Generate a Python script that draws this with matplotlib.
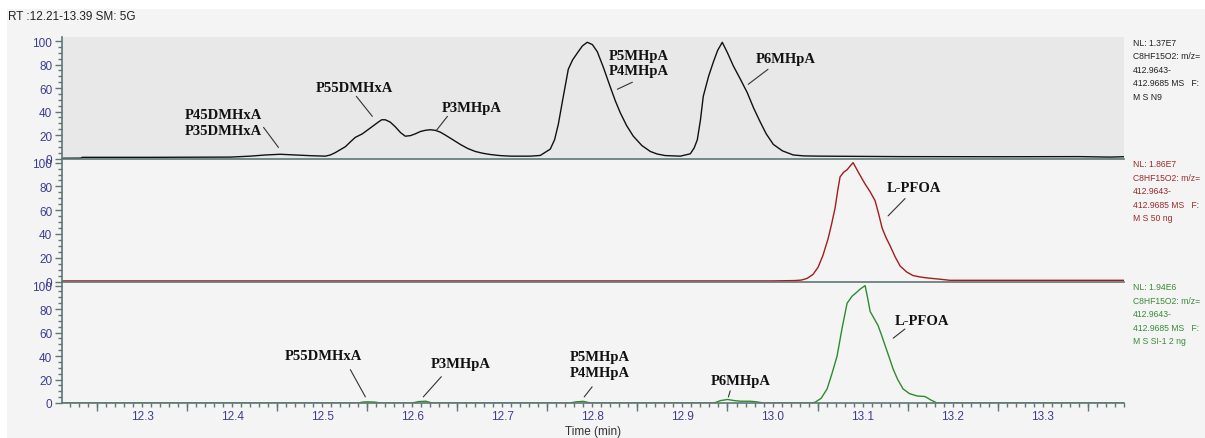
import numpy as np
import matplotlib
matplotlib.use('agg')
import matplotlib.pyplot as plt
from matplotlib.patches import Rectangle
from matplotlib.ticker import MultipleLocator, FixedLocator, NullFormatter

# retention time (min) and relative abundance (%)
t_ms = [12.211, 12.2315, 12.2337, 12.3092, 12.398, 12.420, 12.437, 12.4535, 12.470,
        12.4868, 12.5034, 12.509, 12.5145, 12.520, 12.5256, 12.531, 12.5367, 12.5445,
        12.5534, 12.5622, 12.566, 12.570, 12.5755, 12.5811, 12.587, 12.5922, 12.598,
        12.6033, 12.609, 12.6144, 12.620, 12.6255, 12.631, 12.6366, 12.645, 12.6533,
        12.6616, 12.6699, 12.678, 12.6866, 12.697, 12.7088, 12.731, 12.7421, 12.7532,
        12.758, 12.7621, 12.767, 12.7732, 12.778, 12.7843, 12.789, 12.7943, 12.800,
        12.8054, 12.812, 12.8198, 12.8255, 12.8309, 12.838, 12.8454, 12.855, 12.8643,
        12.872, 12.8809, 12.8976, 12.9087, 12.913, 12.9165, 12.920, 12.9231, 12.929,
        12.9342, 12.939, 12.9442, 12.950, 12.9564, 12.964, 12.972, 12.979, 12.9864,
        12.993, 13.0009, 13.011, 13.0231, 13.035, 13.0531, 13.1419, 13.2526, 13.3414,
        13.3747, 13.3903]
i_ms = [0.2, 0.3, 1.0, 1.0, 1.2, 2.0, 3.0, 3.6, 3.0,
        2.4, 2.0, 3.0, 5.0, 7.5, 10.0, 14.0, 18.0, 21.0,
        26.0, 31.0, 33.0, 33.0, 31.0, 27.0, 22.0, 19.0, 19.5,
        21.0, 23.0, 24.0, 24.5, 24.0, 22.5, 20.0, 16.0, 12.0,
        8.5, 6.0, 4.5, 3.4, 2.5, 2.0, 2.0, 2.6, 8.0,
        16.0, 29.0, 50.0, 76.0, 84.0, 91.0, 96.0, 99.0, 97.0,
        91.0, 78.0, 61.0, 49.0, 39.0, 28.0, 19.0, 11.0, 6.0,
        3.8, 2.5, 2.0, 4.0, 9.0, 16.0, 33.0, 53.0, 70.0,
        82.0, 92.0, 99.0, 90.0, 79.0, 68.0, 56.0, 43.0, 31.0,
        21.0, 12.0, 6.5, 3.0, 2.2, 2.0, 1.6, 1.5, 1.6,
        1.2, 1.5]

t_50ng = [12.211, 13.0, 13.025, 13.032, 13.0384, 13.045, 13.0506, 13.056, 13.0617,
          13.0655, 13.0695, 13.0725, 13.075, 13.079, 13.0828, 13.086, 13.0895, 13.096,
          13.1028, 13.108, 13.1139, 13.1178, 13.1217, 13.126, 13.1306, 13.136, 13.1417,
          13.149, 13.156, 13.164, 13.1716, 13.185, 13.197, 13.3903]
i_50ng = [0.5, 0.5, 0.8, 1.2, 2.6, 6.0, 12.0, 22.0, 36.0,
          48.0, 62.0, 77.0, 88.0, 92.0, 94.0, 97.0, 100.0, 91.0,
          82.0, 76.0, 68.0, 57.0, 45.0, 37.0, 30.0, 21.0, 13.0,
          8.0, 5.0, 3.8, 3.0, 2.0, 1.0, 1.0]

t_2ng = [12.211, 12.54, 12.545, 12.55, 12.558, 12.565, 12.60, 12.607, 12.615, 12.622,
         12.775, 12.782, 12.79, 12.798, 12.935, 12.942, 12.95, 12.958, 12.965, 12.975,
         12.982, 12.99, 13.04, 13.047, 13.054, 13.0606, 13.066, 13.0717, 13.0773,
         13.0828, 13.0884, 13.093, 13.0973, 13.1028, 13.1055, 13.1084, 13.1128, 13.1172,
         13.121, 13.125, 13.1295, 13.1339, 13.139, 13.145, 13.152, 13.1605, 13.1694,
         13.176, 13.1827, 13.3903]
i_2ng = [0.0, 0.0, 0.8, 1.0, 0.8, 0.0, 0.0, 1.2, 1.5, 0.0,
         0.0, 1.0, 1.4, 0.0, 0.0, 2.0, 3.0, 2.0, 1.5, 1.5,
         1.0, 0.0, 0.0, 0.5, 4.0, 12.0, 25.0, 40.0, 64.0,
         85.0, 91.0, 94.0, 97.0, 100.0, 90.0, 78.0, 72.0, 66.0,
         58.0, 49.0, 39.0, 29.0, 20.0, 12.0, 8.0, 6.0, 5.5,
         2.5, 0.0, 0.0]

info_ms = ["NL: 1.37E7", "C8HF15O2: m/z=", "412.9643-", "412.9685 MS   F:", "M S N9"]
info_50ng = ["NL: 1.86E7", "C8HF15O2: m/z=", "412.9643-", "412.9685 MS   F:", "M S 50 ng"]
info_2ng = ["NL: 1.94E6", "C8HF15O2: m/z=", "412.9643-", "412.9685 MS   F:", "M S SI-1 2 ng"]

# peak labels: text, text centre, leader start, leader end
lab_ms = [("P45DMHxA\nP35DMHxA", (12.3905, 30.8), (12.4348, 26.5), (12.4514, 9.4)),
          ("P55DMHxA", (12.5358, 60.7), (12.5378, 53.0), (12.5556, 35.9)),
          ("P3MHpA", (12.6655, 43.6), (12.6390, 35.9), (12.6267, 23.9)),
          ("P5MHpA\nP4MHpA", (12.852, 81.2), (12.8444, 65.0), (12.8277, 59.0)),
          ("P6MHpA", (13.0152, 85.5), (12.995, 76.0), (12.973, 63.2))]
lab_50ng = [("L-PFOA", (13.1574, 79.3), (13.1472, 69.8), (13.1283, 55.2))]
lab_2ng = [("P55DMHxA", (12.5013, 40.5), (12.5312, 28.4), (12.5479, 5.2)),
           ("P3MHpA", (12.6533, 33.6), (12.6322, 22.4), (12.6122, 5.2)),
           ("P5MHpA\nP4MHpA", (12.8087, 32.8), (12.7997, 13.8), (12.7909, 5.2)),
           ("P6MHpA", (12.9642, 19.0), (12.953, 10.3), (12.951, 5.2)),
           ("L-PFOA", (13.166, 70.7), (13.147, 63.0), (13.134, 55.2))]

W, H = 1205, 439
bg = '#f4f4f4'
axcol = '#5e7676'
tickcol = '#3d3d92'

fig = plt.figure(figsize=(W / 100, H / 100), dpi=100, facecolor='white')
fig.patches.append(Rectangle((7 / W, 0), 1, 1 - 10 / H, transform=fig.transFigure,
                             facecolor=bg, edgecolor='none', zorder=-10))

left, right = 62 / W, 1124 / W
bounds = [(38, 159.5), (159.5, 282.5), (282.5, 404)]
panels = [(t_ms, i_ms, '#111111', info_ms, '#222222', lab_ms),
          (t_50ng, i_50ng, '#a31c1c', info_50ng, '#9a2b2b', lab_50ng),
          (t_2ng, i_2ng, '#2f8a2f', info_2ng, '#3a8a3a', lab_2ng)]

serif = ['Liberation Serif', 'DejaVu Serif']
sans = ['Liberation Sans', 'DejaVu Sans']

for k, ((top, bot), (tt, ii, lc, info, icol, labs)) in enumerate(zip(bounds, panels)):
    ax = fig.add_axes([left, 1 - bot / H, right - left, (bot - top) / H])
    ax.set_facecolor('#e8e8e8' if k == 0 else 'none')
    ax.plot(tt, ii, color=lc, lw=1.0)
    ax.set_xlim(12.211, 13.3903)
    ax.set_ylim(0, 103.5)
    for s in ['top', 'right']:
        ax.spines[s].set_visible(False)
    for s in ['left', 'bottom']:
        ax.spines[s].set_color(axcol)
        ax.spines[s].set_linewidth(1.2)
    ax.yaxis.set_major_locator(MultipleLocator(20))
    ax.yaxis.set_minor_locator(MultipleLocator(5))
    ax.tick_params(axis='y', which='major', length=5, width=1, color=axcol,
                   labelsize=8.5, labelcolor=tickcol, pad=2)
    ax.tick_params(axis='y', which='minor', length=3, width=1, color=axcol)
    for lbl in ax.get_yticklabels():
        lbl.set_family(sans)

    if k < 2:
        ax.tick_params(axis='x', which='both', bottom=False, labelbottom=False)
    else:
        ax.xaxis.set_major_locator(MultipleLocator(0.1))
        ax.xaxis.set_minor_locator(MultipleLocator(0.01))
        ax.tick_params(axis='x', which='both', length=3, width=1, color=axcol,
                       labelsize=8.5, labelcolor=tickcol, pad=2)
        for lbl in ax.get_xticklabels():
            lbl.set_family(sans)
        sec = ax.secondary_xaxis('bottom')
        sec.xaxis.set_major_locator(FixedLocator(np.arange(12.25, 13.39, 0.1)))
        sec.xaxis.set_major_formatter(NullFormatter())
        sec.tick_params(axis='x', length=6, width=1, color=axcol)
        sec.spines['bottom'].set_visible(False)
        ax.set_xlabel("Time (min)", fontsize=8.5, color='#333333', family=sans, labelpad=2)

    for txt, pos, p0, p1 in labs:
        ax.text(pos[0], pos[1], txt, ha='center', va='center', fontsize=10.5,
                fontweight='bold', family=serif, linespacing=1.25, color='#111111')
        ax.annotate('', xy=p1, xytext=p0,
                    arrowprops=dict(arrowstyle='-', color='#333333', lw=0.8,
                                    shrinkA=0, shrinkB=0))

    for j, line in enumerate(info):
        fig.text(1133 / W, 1 - (top + 5 + 13.6 * j) / H, line, fontsize=6.2,
                 color=icol, family=sans, va='center', ha='left')

fig.text(8 / W, 1 - 17 / H, "RT :12.21-13.39 SM: 5G", fontsize=8.5, color='#222222',
         family=sans, va='center', ha='left')

fig.savefig("out.png", dpi=100, facecolor=fig.get_facecolor())
